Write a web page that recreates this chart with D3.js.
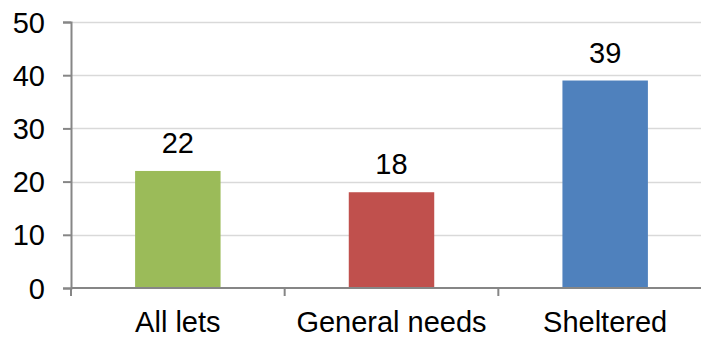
<!DOCTYPE html>
<html>
<head>
<meta charset="utf-8">
<script src="https://cdn.jsdelivr.net/npm/d3@7"></script>
<style>
  html, body { margin: 0; background: #fff; overflow: hidden; }
  svg { display: block; }
  text { font-family: 'Liberation Sans', Arial, sans-serif; fill: #000; }
</style>
</head>
<body>
<div id="chart"></div>
<script>
const categories = ['All lets', 'General needs', 'Sheltered']
const values = [22, 18, 39]
const colors = ['#9BBB59', '#C0504D', '#4F81BD']
const yTicks = [0, 10, 20, 30, 40, 50]

const width = 701
const height = 338
const margin = { left: 71, top: 22, right: -11, bottom: 50 }
const fontSize = '29px'

const svg = d3.select('#chart').append('svg')
  .attr('width', width)
  .attr('height', height)

// plot area runs a little past the right edge of the picture
const x = d3.scaleBand()
  .domain(categories)
  .range([margin.left, width - margin.right])
  .paddingInner(0.6)
  .paddingOuter(0.3)

const y = d3.scaleLinear()
  .domain([0, 50])
  .range([height - margin.bottom, margin.top])

// gridlines
svg.append('g')
  .selectAll('line')
  .data(yTicks.slice(1))
  .join('line')
  .attr('x1', margin.left)
  .attr('x2', width)
  .attr('y1', d => Math.round(y(d)) + 0.5)
  .attr('y2', d => Math.round(y(d)) + 0.5)
  .attr('stroke', '#D9D9D9')
  .attr('stroke-width', 1.5)

// bars
svg.append('g')
  .selectAll('rect')
  .data(values)
  .join('rect')
  .attr('x', (d, i) => x(categories[i]))
  .attr('width', x.bandwidth())
  .attr('y', d => y(d))
  .attr('height', d => y(0) - y(d))
  .attr('fill', (d, i) => colors[i])

// value labels
svg.append('g')
  .selectAll('text')
  .data(values)
  .join('text')
  .attr('x', (d, i) => x(categories[i]) + x.bandwidth() / 2)
  .attr('y', d => y(d) - 18)
  .attr('text-anchor', 'middle')
  .style('font-size', fontSize)
  .text(d => d)

// y axis
const yAxis = svg.append('g')
  .attr('transform', `translate(${margin.left},0)`)
  .call(d3.axisLeft(y).tickValues(yTicks).tickSize(8).tickPadding(18))
yAxis.select('.domain').attr('stroke', '#868686').attr('stroke-width', 2)
yAxis.selectAll('.tick line').attr('stroke', '#868686').attr('stroke-width', 2)
yAxis.selectAll('.tick text')
  .style('font-size', fontSize)
  .attr('dy', '0.35em')

// x axis line and category separators
const bandEdges = [margin.left, ...categories.map(c => x(c) - x.step() * x.paddingInner() / 2 + x.step())]
  .filter(e => e < width)
svg.append('line')
  .attr('x1', margin.left)
  .attr('x2', width)
  .attr('y1', y(0))
  .attr('y2', y(0))
  .attr('stroke', '#868686')
  .attr('stroke-width', 2)
svg.append('g')
  .selectAll('line')
  .data(bandEdges)
  .join('line')
  .attr('x1', d => d)
  .attr('x2', d => d)
  .attr('y1', y(0))
  .attr('y2', y(0) + 8)
  .attr('stroke', '#868686')
  .attr('stroke-width', 2)

svg.append('g')
  .selectAll('text')
  .data(categories)
  .join('text')
  .attr('x', d => x(d) + x.bandwidth() / 2)
  .attr('y', 332)
  .attr('text-anchor', 'middle')
  .style('font-size', fontSize)
  .text(d => d)
</script>
</body>
</html>
